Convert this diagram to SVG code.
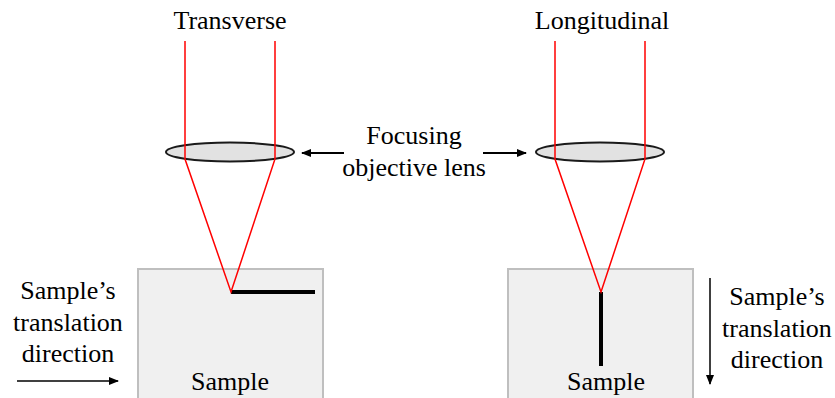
<svg xmlns="http://www.w3.org/2000/svg" width="835" height="398" viewBox="0 0 835 398">
<style>
text{font-family:'Liberation Serif','Times New Roman','DejaVu Serif',serif;font-size:26px;fill:#000;text-anchor:middle}
.lens{fill:#e2e2e2;stroke:#1a1a1a;stroke-width:2}
.beam{fill:none;stroke:#ff0000;stroke-width:1.5}
.box{fill:#f0f0f0;stroke:#bfbfbf;stroke-width:2}
.arr{stroke:#000;stroke-width:1.5;fill:none;marker-end:url(#ah)}
.arrb{stroke:#000;stroke-width:2.2;fill:none;marker-end:url(#ah)}
</style>
<defs>
<marker id="ah" markerWidth="10" markerHeight="8" refX="9" refY="4" orient="auto" markerUnits="userSpaceOnUse">
<path d="M0,0 L10,4 L0,8 Z" fill="#000"/>
</marker>
</defs>
<g id="sample-left">
<rect class="box" x="138" y="269" width="185" height="135"/>
<line x1="231" y1="292" x2="315" y2="292" stroke="#000" stroke-width="4"/>
<text x="230" y="390" font-family="Liberation Serif, serif">Sample</text>
</g>
<g id="sample-right">
<rect class="box" x="508" y="269" width="185" height="135"/>
<line x1="601" y1="292" x2="601" y2="366" stroke="#000" stroke-width="4"/>
<text x="606" y="390" font-family="Liberation Serif, serif">Sample</text>
</g>
<g id="lens-left">
<ellipse class="lens" cx="230" cy="152" rx="64" ry="9.5"/>
</g>
<g id="lens-right">
<ellipse class="lens" cx="600" cy="152" rx="64" ry="9.5"/>
</g>
<g id="beam-left">
<polyline class="beam" points="185,41 185,159 231,292 275,159 275,41"/>
</g>
<g id="beam-right">
<polyline class="beam" points="555,41 555,159 601,292 645,159 645,41"/>
</g>
<g id="title-left"><text x="230" y="29">Transverse</text></g>
<g id="title-right"><text x="602" y="29">Longitudinal</text></g>
<g id="lens-label">
<text x="414" y="144">Focusing</text>
<text x="414" y="176">objective lens</text>
</g>
<g id="dir-left">
<text x="68" y="299">Sample’s</text>
<text x="68" y="331">translation</text>
<text x="68" y="362">direction</text>
</g>
<g id="dir-right">
<text x="777" y="305">Sample’s</text>
<text x="777" y="337">translation</text>
<text x="777" y="368">direction</text>
</g>
<g id="connectors">
<line class="arrb" x1="344" y1="153" x2="302" y2="153"/>
<line class="arrb" x1="483" y1="153" x2="526" y2="153"/>
<line class="arr" x1="17" y1="381" x2="118" y2="381"/>
<line class="arr" x1="710" y1="278" x2="710" y2="384"/>
</g>
</svg>
